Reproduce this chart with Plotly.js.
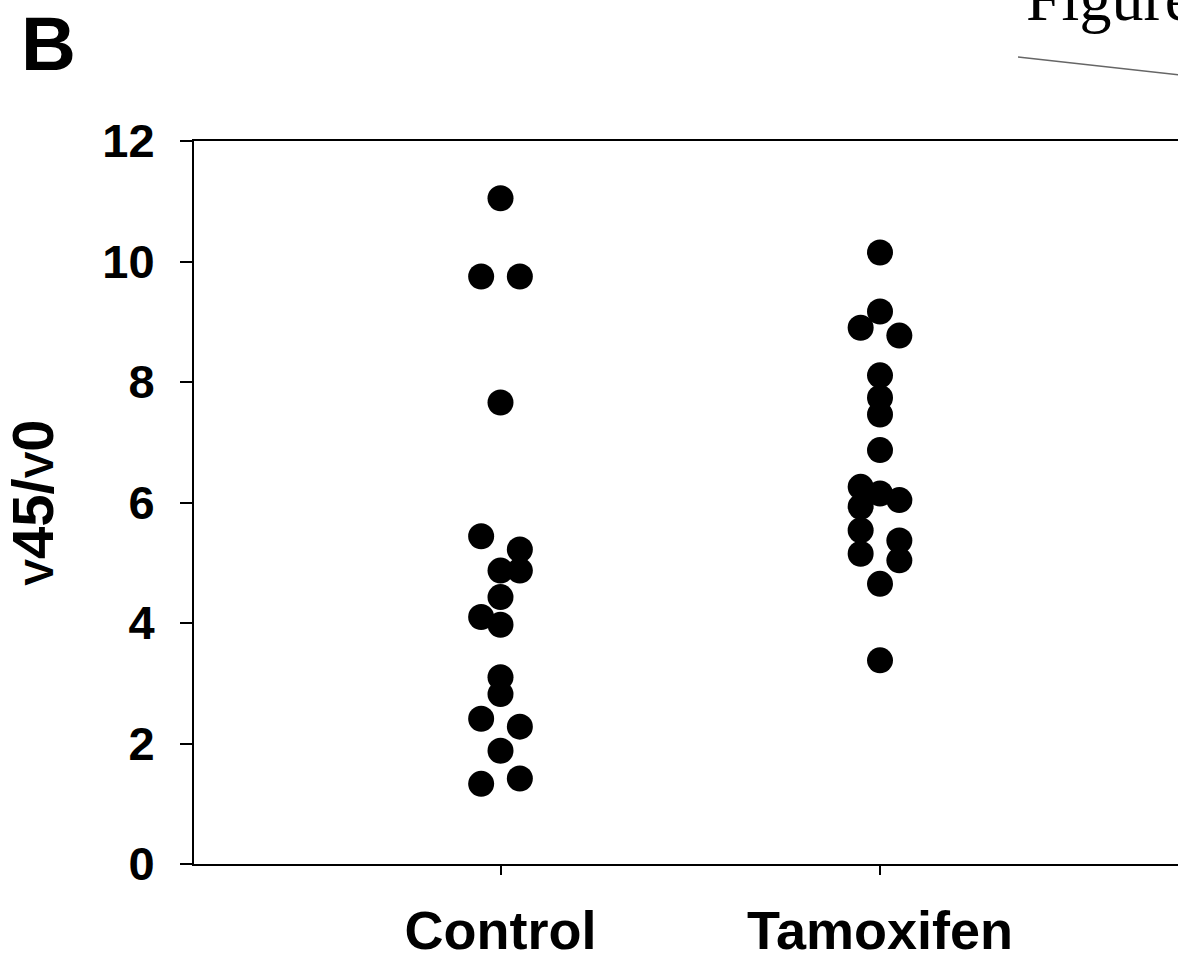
<!DOCTYPE html>
<html>
<head>
<meta charset="utf-8">
<script src="https://cdn.plot.ly/plotly-3.0.1.min.js"></script>
<style>
html, body { margin: 0; padding: 0; overflow: hidden; background: #fff; }
#chart { width: 1240px; height: 961px; }
</style>
</head>
<body>
<div id="chart"></div>
<script>
// ---- data ----
const categories = ["Control", "Tamoxifen"];
const controlValues = [11.05, 9.75, 9.75, 7.66, 5.44, 5.22, 4.87, 4.87, 4.43, 4.10, 3.97, 3.10, 2.82, 2.41, 2.28, 1.88, 1.33, 1.42];
const controlSlots  = [0, -1, 1, 0, -1, 1, 0, 1, 0, -1, 0, 0, 0, -1, 1, 0, -1, 1];
const tamoxifenValues = [10.15, 9.17, 8.90, 8.77, 8.11, 7.74, 7.46, 6.87, 6.26, 6.15, 6.04, 5.93, 5.54, 5.37, 5.15, 5.04, 4.65, 3.38];
const tamoxifenSlots  = [0, 0, -1, 1, 0, 0, 0, 0, -1, 0, 1, -1, -1, 1, -1, 1, 0, 0];
const yTickValues = [0, 2, 4, 6, 8, 10, 12];
const yTickLabels = ["0", "2", "4", "6", "8", "10", "12"];

// ---- layout constants ----
const W = 1240, H = 961;
const mL = 194, mR = 16, mT = 141, mB = 97;
const plotW = W - mL - mR, plotH = H - mT - mB;
const pxPerCat = 379.5;
const xMin = 1 - (500.5 - mL) / pxPerCat;
const xMax = xMin + plotW / pxPerCat;
const slotStep = 0.051;

function px2paperX(px) { return (px - mL) / plotW; }
function px2paperY(py) { return (H - mB - py) / plotH; }

const groups = [
  { name: categories[0], values: controlValues, slots: controlSlots, pos: 1 },
  { name: categories[1], values: tamoxifenValues, slots: tamoxifenSlots, pos: 2 }
];

const traces = groups.map(g => ({
  type: "scatter",
  mode: "markers",
  name: g.name,
  x: g.slots.map(s => g.pos + s * slotStep),
  y: g.values,
  marker: { color: "#000", size: 26, line: { width: 0 } },
  hoverinfo: "y+name"
}));

const font = "Liberation Sans, Arial, sans-serif";

const layout = {
  width: W, height: H,
  margin: { l: mL, r: mR, t: mT, b: mB, pad: 0 },
  paper_bgcolor: "#fff",
  plot_bgcolor: "#fff",
  showlegend: false,
  xaxis: {
    range: [xMin, xMax],
    tickvals: [1, 2],
    ticktext: categories,
    showgrid: false, zeroline: false,
    showline: true, linecolor: "#000", linewidth: 2,
    mirror: true,
    ticks: "outside", ticklen: 9, tickwidth: 2, tickcolor: "#000",
    ticklabelstandoff: 9,
    tickfont: { family: font, size: 54, color: "#000", weight: "bold" }
  },
  yaxis: {
    range: [0, 12],
    tickvals: yTickValues,
    ticktext: yTickLabels,
    showgrid: false, zeroline: false,
    showline: true, linecolor: "#000", linewidth: 2,
    ticks: "outside", ticklen: 12, tickwidth: 2, tickcolor: "#000",
    ticklabelstandoff: 16,
    tickfont: { family: font, size: 47, color: "#000", weight: "bold" },
    title: {
      text: "<span style='font-size:40px'>V</span>45/<span style='font-size:40px'>V</span>0",
      font: { family: font, size: 58, color: "#000", weight: "bold" },
      standoff: 48
    }
  },
  annotations: [
    {
      text: "B", xref: "paper", yref: "paper",
      x: px2paperX(19), y: px2paperY(-1), xanchor: "left", yanchor: "top",
      showarrow: false,
      font: { family: font, size: 76, color: "#000", weight: "bold" }
    },
    {
      text: "Figure", xref: "paper", yref: "paper",
      x: px2paperX(1024), y: px2paperY(36), xanchor: "left", yanchor: "bottom",
      showarrow: false,
      font: { family: "Liberation Serif, Times New Roman, serif", size: 64, color: "#000" }
    }
  ],
  shapes: [
    {
      type: "line", xref: "paper", yref: "paper",
      x0: px2paperX(1018), y0: px2paperY(57), x1: px2paperX(1180), y1: px2paperY(75),
      line: { color: "#666", width: 1.5 }
    }
  ]
};

Plotly.newPlot("chart", traces, layout, { displayModeBar: false, staticPlot: true });
</script>
</body>
</html>
